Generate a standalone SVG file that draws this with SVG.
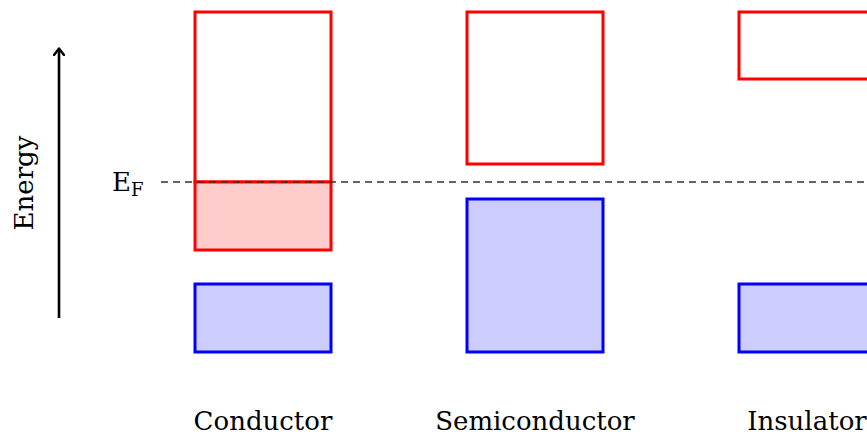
<svg xmlns="http://www.w3.org/2000/svg" width="867" height="438" viewBox="0 0 867 438">
<style>
.cb{fill:#fff;stroke:#ff0000;stroke-width:3}
.cf{fill:#ffcccc;stroke:#ff0000;stroke-width:3}
.vb{fill:#ccccff;stroke:#0000ff;stroke-width:3}
.lbl{font-family:"DejaVu Serif","Liberation Serif",serif;font-size:26px;fill:#000}
</style>
<defs>
<marker id="ah" markerWidth="14" markerHeight="12" refX="7" refY="6" orient="auto" markerUnits="userSpaceOnUse">
<path d="M1,1 L7.5,6 L1,11" fill="none" stroke="#000" stroke-width="2.4" stroke-linecap="round" stroke-linejoin="round"/>
</marker>
</defs>
<rect width="867" height="438" fill="#fff"/>
<g id="axis">
<line x1="59" y1="318" x2="59" y2="49" stroke="#000" stroke-width="2.6" marker-end="url(#ah)"/>
<text class="lbl" transform="translate(33,183) rotate(-90)" text-anchor="middle">Energy</text>
</g>
<g id="conductor">
<rect class="cb" x="195" y="12" width="136" height="170"/>
<rect class="cf" x="195" y="182" width="136" height="68"/>
<rect class="vb" x="195" y="284" width="136" height="68"/>
<text class="lbl" x="263" y="430" text-anchor="middle">Conductor</text>
</g>
<g id="semiconductor">
<rect class="cb" x="467" y="12" width="136" height="152"/>
<rect class="vb" x="467" y="199" width="136" height="153"/>
<text class="lbl" x="535" y="430" text-anchor="middle">Semiconductor</text>
</g>
<g id="insulator">
<rect class="cb" x="739" y="12" width="140" height="67"/>
<rect class="vb" x="739" y="284" width="140" height="68"/>
<text class="lbl" x="807" y="430" text-anchor="middle">Insulator</text>
</g>
<g id="connectors">
<line x1="161" y1="182" x2="867" y2="182" stroke="#333" stroke-width="1.3" stroke-dasharray="7,5"/>
</g>
<g id="fermi">
<text class="lbl" x="112" y="191" font-size="23">E<tspan font-size="18" dy="5">F</tspan></text>
</g>
</svg>
